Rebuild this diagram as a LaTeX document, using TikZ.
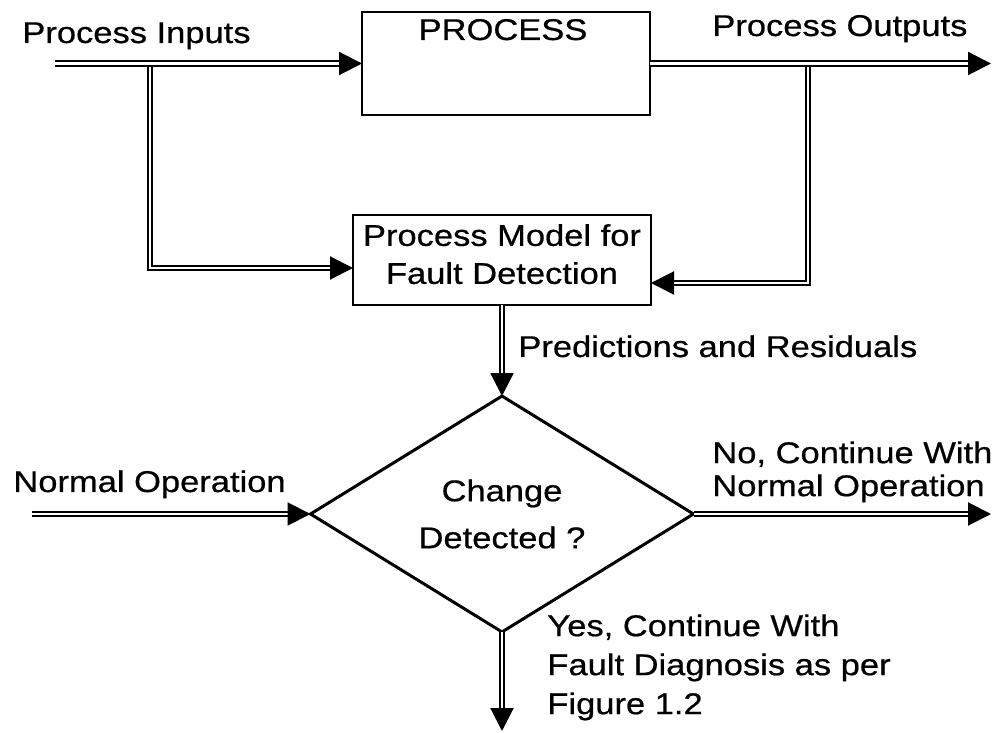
\documentclass[tikz,border=0pt]{standalone}
\usepackage{fontspec}
\setmainfont{Liberation Sans}[FakeStretch=1.15, FakeBold=0.6]
\usetikzlibrary{shapes.geometric,arrows.meta,calc}

\begin{document}
\begin{tikzpicture}[x=0.5pt,y=-0.5pt,
  every node/.style={font=\fontsize{15pt}{19pt}\selectfont},
  box/.style={draw, line width=1.2pt, inner sep=0pt, outer sep=0pt},
  flow/.style={draw, line width=1.05pt, double, double distance=1.3pt},
  flowarrow/.style={flow, -{Triangle[length=11.5pt,width=11.5pt]}},
  lbl/.style={inner sep=0pt},
]
\useasboundingbox (0,0) rectangle (993,733);

% blocks
\node[box, minimum width=144pt, minimum height=51.5pt] (process) at (506,63.5) {};
\node[lbl, anchor=base] (proctitle) at (503,40) {PROCESS};
\node[box, align=center, minimum width=149pt, minimum height=45pt, text depth=6pt]
  (model) at (502,260) {Process Model for\\Fault Detection};
\node[draw, shape=diamond, line width=1.5pt, inner sep=0pt, outer sep=0pt,
  minimum width=191.5pt, minimum height=77.5pt, align=center,
  font=\fontsize{15pt}{23.5pt}\selectfont] (dec) at (502,514) {Change\\Detected ?};

% labels
\node[lbl, anchor=base west] (inlbl) at (22,43) {Process Inputs};
\node[lbl, anchor=base west] (outlbl) at (712,36) {Process Outputs};
\node[lbl, anchor=base west] (predlbl) at (518,357) {Predictions and Residuals};
\node[lbl, anchor=base west] (normlbl) at (13,492) {Normal Operation};
\node[lbl, anchor=north west, align=left, font=\fontsize{15pt}{16.5pt}\selectfont]
  (nolbl) at (712,441) {No, Continue With\\Normal Operation};
\node[lbl, anchor=north west, align=left, font=\fontsize{15pt}{19.5pt}\selectfont]
  (yeslbl) at (547,614) {Yes, Continue With\\Fault Diagnosis as per\\Figure 1.2};

% free ends and branch points
\coordinate (inp) at (55,63.5);
\coordinate (inbr) at (150,63.5);
\coordinate (outbr) at (808,63.5);
\coordinate (outend) at (991,63.5);
\coordinate (nin) at (32,514);
\coordinate (noend) at (991,514);
\coordinate (yesend) at (502,731);

% branches first, so the main lines pass over their joints
\draw[flowarrow] (inbr) |- ($(model.west)+(0,8)$);
\draw[flowarrow] (outbr) |- ($(model.east)+(0,23)$);

% main signal lines
\draw[flowarrow] (inp) -- (process.west);
\draw[flowarrow] (process.east) -- (outend);
\draw[flowarrow] (model.south) -- (dec.north);
\draw[flowarrow] (nin) -- (dec.west);
\draw[flowarrow] (dec.east) -- (noend);
\draw[flowarrow] (dec.south) -- (yesend);
\end{tikzpicture}
\end{document}
